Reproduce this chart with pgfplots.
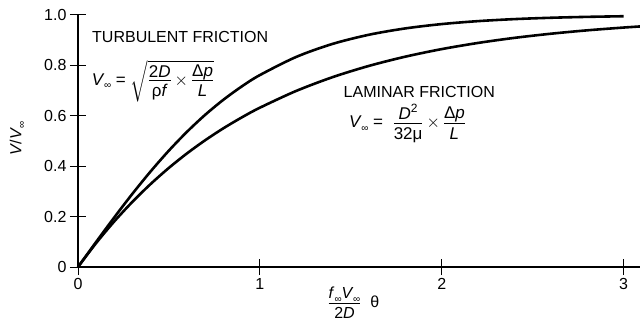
\documentclass[border=0pt]{standalone}
\usepackage{amsmath}
\usepackage{fontspec}
\setmainfont{Liberation Sans}
\usepackage{pgfplots}
\pgfplotsset{compat=1.18}

% V with a small infinity subscript, and fractions built from text boxes
\newcommand{\sinf}{\raisebox{-0.4ex}{\fontsize{10bp}{10bp}\selectfont ∞}}
\newcommand{\Vinf}{\textit{V}\kern-0.5pt\sinf}
\newcommand{\fr}[2]{\tfrac{\hbox{\rule[-2.5bp]{0pt}{0pt}#1}}{\hbox{\rule{0pt}{14.5bp}#2}}}

\begin{document}
\begin{tikzpicture}
\begin{axis}[
  scale only axis,
  width=562bp, height=252bp,
  xmin=0, xmax=3.09, ymin=0, ymax=1.0,
  axis lines=left,
  axis line style={-, line width=1.4pt},
  tick align=center,
  major tick length=16bp,
  tick style={line width=1pt, black},
  xtick={0,1,2,3}, xticklabels={0,1,2,3},
  ytick={0,0.2,0.4,0.6,0.8,1.0},
  yticklabels={0,0.2,0.4,0.6,0.8,1.0},
  ticklabel style={font=\fontsize{16bp}{18bp}\selectfont},
  /pgf/number format/assume math mode=true,
  clip=false,
  xlabel={$\fr{\textit{f}\sinf\textit{V}\kern-0.5pt\sinf}{2\textit{D}}$\ \ θ},
  xlabel style={at={(axis description cs:0.49,-0.143)}, anchor=center,
    font=\fontsize{16bp}{18bp}\selectfont},
  ylabel={\textit{V}/\Vinf},
  ylabel style={at={(axis description cs:-0.108,0.51)}, anchor=center,
    font=\fontsize{16bp}{18bp}\selectfont},
]
% turbulent friction curve
\addplot[black, line width=2.6pt, smooth] coordinates {
  (0,0) (0.1,0.0997) (0.2,0.1974) (0.3,0.2913) (0.4,0.3799) (0.5,0.4621)
  (0.6,0.5370) (0.7,0.6044) (0.8,0.6640) (0.9,0.7163) (1.0,0.7616)
  (1.2,0.8337) (1.4,0.8854) (1.6,0.9217) (1.8,0.9468) (2.0,0.9640)
  (2.2,0.9757) (2.4,0.9837) (2.6,0.9890) (2.8,0.9926) (3.0,0.9951)
};
% laminar friction curve
\addplot[black, line width=2.6pt, smooth] coordinates {
  (0,0) (0.1,0.0952) (0.2,0.1813) (0.3,0.2592) (0.4,0.3297) (0.5,0.3935)
  (0.6,0.4512) (0.7,0.5034) (0.8,0.5507) (0.9,0.5934) (1.0,0.6321)
  (1.2,0.6988) (1.4,0.7534) (1.6,0.7981) (1.8,0.8347) (2.0,0.8647)
  (2.2,0.8892) (2.4,0.9093) (2.6,0.9257) (2.8,0.9392) (3.0,0.9502) (3.1,0.9550)
};
\node[anchor=base west, font=\fontsize{16bp}{18bp}\selectfont, inner sep=0pt]
  at (axis cs:0.077,0.889) {TURBULENT FRICTION};
\node[anchor=west, font=\fontsize{17bp}{19bp}\selectfont, inner sep=0pt]
  at (axis cs:0.075,0.738)
  {\Vinf\ = $\sqrt{\fr{2\textit{D}}{ρ\textit{f}}\,{\times}\,\fr{Δ\textit{p}}{\textit{L}}}$};
\node[anchor=base west, font=\fontsize{16bp}{18bp}\selectfont, inner sep=0pt]
  at (axis cs:1.46,0.673) {LAMINAR FRICTION};
\node[anchor=west, font=\fontsize{17bp}{19bp}\selectfont, inner sep=0pt]
  at (axis cs:1.49,0.57)
  {\Vinf\ = \ $\fr{\textit{D}\raisebox{0.8ex}{\fontsize{12bp}{12bp}\selectfont 2}}{32μ}\,{\times}\,\fr{Δ\textit{p}}{\textit{L}}$};
\coordinate (bl) at (rel axis cs:0,0);
\coordinate (tr) at (rel axis cs:1,1);
\end{axis}
\pgfresetboundingbox
\path[use as bounding box] ([shift={(-78bp,-58bp)}]bl) rectangle ([shift={(0bp,15bp)}]tr);
\end{tikzpicture}
\end{document}
